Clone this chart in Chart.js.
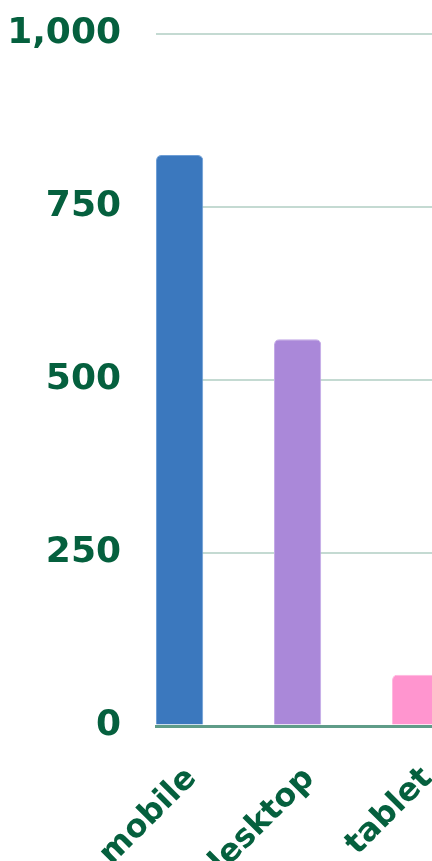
<!DOCTYPE html>
<html>
<head>
<meta charset="utf-8">
<script src="https://cdn.jsdelivr.net/npm/chart.js@4"></script>
<style>
  html, body { margin: 0; padding: 0; background: #fff; overflow: hidden; }
  #wrap { width: 432px; height: 861px; overflow: hidden; }
  #grafico { display: block; }
</style>
</head>
<body>
<div id="wrap"><canvas id="grafico" width="530" height="861"></canvas></div>
<script>
const categories = ["mobile", "desktop", "tablet"];
const visits = [825, 559, 74];
const barColors = ["#3b78be", "#aa88d9", "#ff95cf"];
const edgeColors = ["#6f9fd6", "#c3a9e6", "#ffb8df"];
const yTickValues = [0, 250, 500, 750, 1000];

const verde = "#05603e";
const gridColor = "#c4dad2";
const baseColor = "#5f9c88";

new Chart(document.getElementById("grafico"), {
    type: "bar",
    data: {
        datasets: [{
            data: categories.map((c, i) => ({ x: i, y: visits[i] })),
            backgroundColor: barColors,
            borderColor: edgeColors,
            borderWidth: 1,
            borderRadius: 5,
            categoryPercentage: 1,
            barPercentage: 0.4
        }]
    },
    options: {
        responsive: false,
        animation: false,
        layout: { padding: { top: 34, right: 20, left: 0, bottom: 0 } },
        plugins: {
            legend: { display: false },
            tooltip: { enabled: false }
        },
        scales: {
            x: {
                type: "linear",
                offset: false,
                bounds: "data",
                min: -0.2,
                max: 2.8,
                afterBuildTicks: s => { s.ticks = categories.map((c, i) => ({ value: i })); },
                afterFit: s => {
                    s.height = 135;
                    s.paddingTop = 0;
                    s.paddingBottom = 0;
                    s.paddingLeft = 0;
                    s.paddingRight = 0;
                },
                grid: { display: false, offset: false },
                border: { display: true, color: baseColor, width: 3 },
                ticks: {
                    minRotation: 45,
                    maxRotation: 45,
                    padding: 26,
                    labelOffset: 12,
                    color: verde,
                    font: { family: "DejaVu Sans", size: 32, weight: "bold" },
                    callback: v => categories[v]
                }
            },
            y: {
                min: 0,
                max: 1000,
                afterBuildTicks: s => { s.ticks = yTickValues.map(v => ({ value: v })); },
                afterFit: s => {
                    s.width = 156;
                    s.paddingTop = 0;
                    s.paddingBottom = 0;
                },
                border: { display: false },
                grid: {
                    drawTicks: false,
                    color: c => c.tick && c.tick.value === 0 ? baseColor : gridColor,
                    lineWidth: c => c.tick && c.tick.value === 0 ? 3 : 2
                },
                ticks: {
                    padding: 35,
                    color: verde,
                    font: { family: "DejaVu Sans", size: 36, weight: "bold" },
                    callback: v => v.toLocaleString("en-US")
                }
            }
        }
    }
});
</script>
</body>
</html>
